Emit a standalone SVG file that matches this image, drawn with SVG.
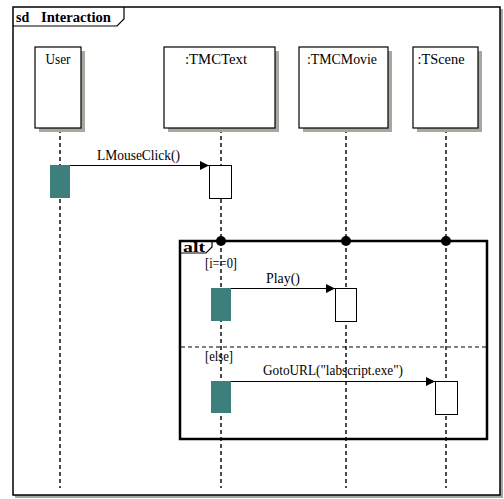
<svg xmlns="http://www.w3.org/2000/svg" width="504" height="499" viewBox="0 0 504 499">
<style>
text{font-family:"Liberation Serif","Times New Roman",serif;font-size:14px;fill:#000}
.head{fill:#fff;stroke:#000;stroke-width:1.2}
.shadow{fill:#a8a8a0}
.life{stroke:#111;stroke-width:1.5;stroke-dasharray:4 3;fill:none}
.act{fill:#fff;stroke:#000;stroke-width:1}
.actf{fill:#3d7f7c}
.msg{stroke:#000;stroke-width:1.2;fill:none}
.bold{font-weight:bold}
</style>
<defs>
<marker id="arr" viewBox="0 0 10 10" refX="10" refY="5" markerWidth="10" markerHeight="9" markerUnits="userSpaceOnUse" orient="auto">
<path d="M0,0 L10,5 L0,10 Z" fill="#000"/>
</marker>
</defs>
<rect width="504" height="499" fill="#fff"/>
<g id="frame">
<rect x="15" y="9" width="488" height="489" class="shadow"/>
<rect x="13" y="7" width="487" height="488" fill="#fff" stroke="#000" stroke-width="1.5"/>
<path d="M13,26 L117,26 L124,19 L124,7" fill="none" stroke="#000" stroke-width="1.2"/>
<text x="16" y="22" class="bold" font-size="15">sd</text>
<text x="41" y="22" class="bold" font-size="15" textLength="70" lengthAdjust="spacingAndGlyphs">Interaction</text>
</g>
<g id="lifelines">
<line x1="60" y1="129" x2="60" y2="488" class="life"/>
<line x1="221" y1="129" x2="221" y2="488" class="life"/>
<line x1="346" y1="129" x2="346" y2="488" class="life"/>
<line x1="446" y1="129" x2="446" y2="488" class="life"/>
</g>
<g id="user">
<rect x="39" y="51" width="46" height="81" class="shadow"/>
<rect x="35" y="47" width="46" height="81" class="head"/>
<text x="58" y="64" text-anchor="middle" textLength="25" lengthAdjust="spacingAndGlyphs">User</text>
</g>
<g id="tmctext">
<rect x="168" y="51" width="111" height="81" class="shadow"/>
<rect x="164" y="47" width="111" height="81" class="head"/>
<text x="216" y="64" text-anchor="middle" textLength="62" lengthAdjust="spacingAndGlyphs">:TMCText</text>
</g>
<g id="tmcmovie">
<rect x="303" y="51" width="89" height="81" class="shadow"/>
<rect x="299" y="47" width="89" height="81" class="head"/>
<text x="342" y="64" text-anchor="middle" textLength="70" lengthAdjust="spacingAndGlyphs">:TMCMovie</text>
</g>
<g id="tscene">
<rect x="417" y="51" width="65" height="81" class="shadow"/>
<rect x="413" y="47" width="65" height="81" class="head"/>
<text x="441" y="64" text-anchor="middle" textLength="47" lengthAdjust="spacingAndGlyphs">:TScene</text>
</g>
<g id="alt">
<rect x="180" y="241" width="307" height="198" fill="none" stroke="#000" stroke-width="2.5"/>
<path d="M180,253 L206,253 L212,247 L212,241" fill="none" stroke="#000" stroke-width="1.2"/>
<text x="183" y="251.5" class="bold" font-size="13" textLength="22" lengthAdjust="spacingAndGlyphs">alt</text>
<line x1="181" y1="347" x2="486" y2="347" stroke="#000" stroke-width="1.2" stroke-dasharray="4 3"/>
<circle cx="221" cy="241" r="5" fill="#000"/>
<circle cx="346" cy="241" r="5" fill="#000"/>
<circle cx="446" cy="241" r="5" fill="#000"/>
<text x="205" y="268" font-size="13" textLength="32" lengthAdjust="spacingAndGlyphs">[i==0]</text>
<text x="205" y="361" font-size="13" textLength="28" lengthAdjust="spacingAndGlyphs">[else]</text>
</g>
<g id="activations">
<rect x="50" y="165" width="20" height="33" class="actf"/>
<rect x="209.5" y="165.5" width="22" height="33" class="act"/>
<rect x="211" y="288" width="20" height="33" class="actf"/>
<rect x="335.5" y="288.5" width="21" height="33" class="act"/>
<rect x="211" y="381" width="20" height="32" class="actf"/>
<rect x="435.5" y="381.5" width="22" height="33" class="act"/>
</g>
<g id="connectors">
<line x1="70" y1="165.5" x2="209" y2="165.5" class="msg" marker-end="url(#arr)"/>
<line x1="231" y1="288.5" x2="335" y2="288.5" class="msg" marker-end="url(#arr)"/>
<line x1="231" y1="381.5" x2="435" y2="381.5" class="msg" marker-end="url(#arr)"/>
<text x="97" y="160" textLength="83" lengthAdjust="spacingAndGlyphs">LMouseClick()</text>
<text x="266" y="283" textLength="34" lengthAdjust="spacingAndGlyphs">Play()</text>
<text x="263" y="375" textLength="140" lengthAdjust="spacingAndGlyphs">GotoURL("labscript.exe")</text>
</g>
</svg>
